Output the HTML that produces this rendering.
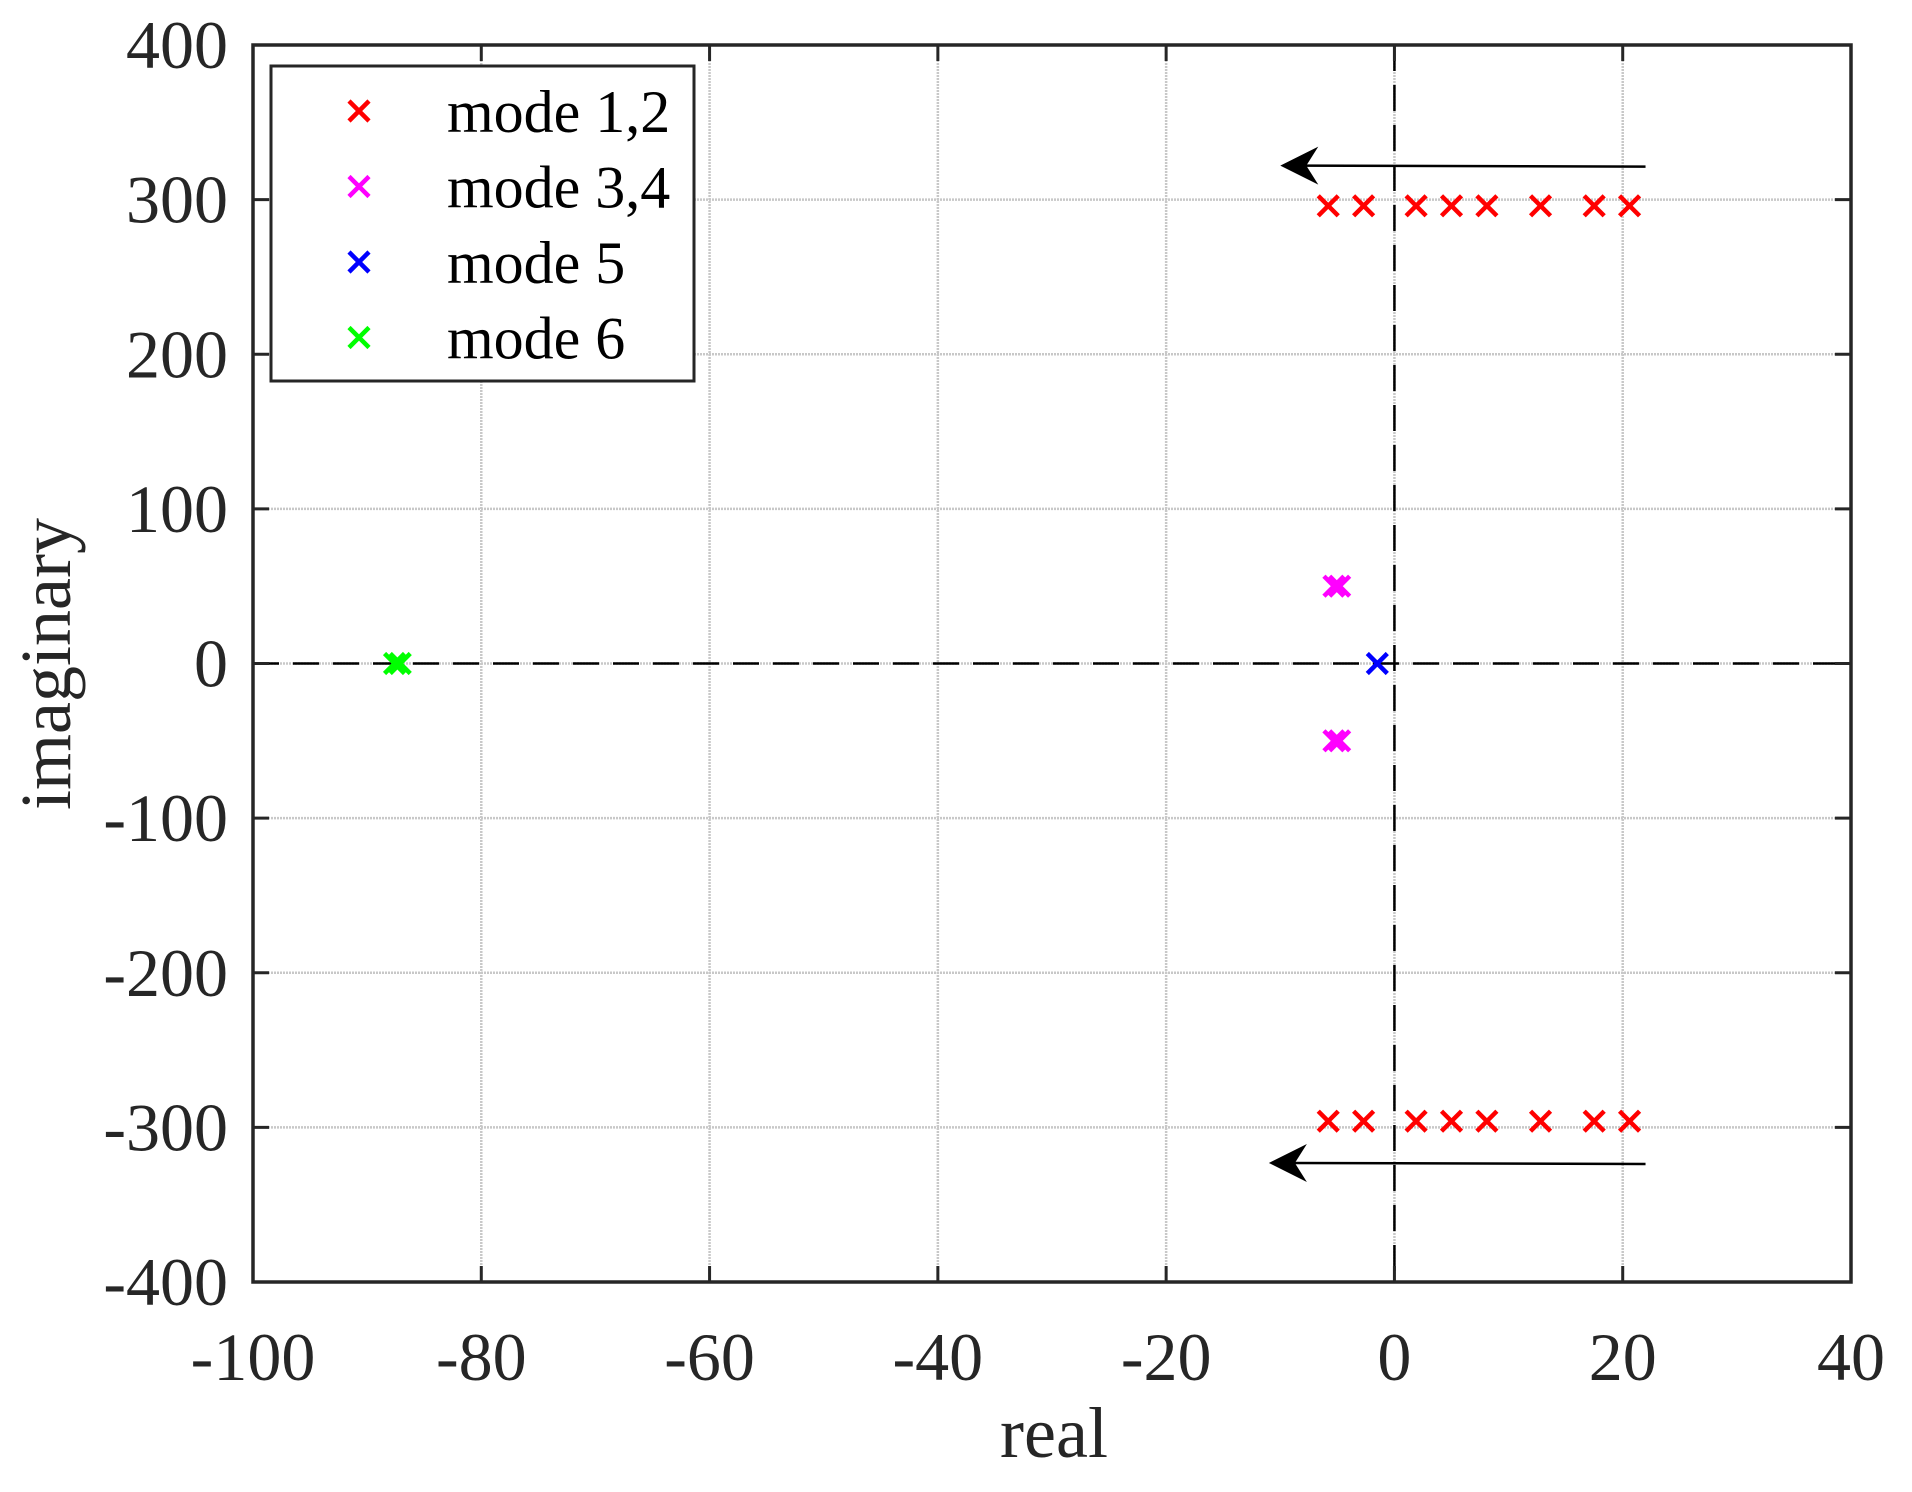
<!DOCTYPE html>
<html><head><meta charset="utf-8"><style>
html,body{margin:0;padding:0;background:#fff;}
svg text{font-family:"Liberation Serif",serif;fill:#262626;}
</style></head><body>
<svg id="chart" width="1912" height="1487" viewBox="0 0 1912 1487" xmlns="http://www.w3.org/2000/svg">
<g id="grid"></g>
<g id="ref"></g>
<g id="marks"></g>
<g id="axes"></g>
<text x="1054" y="1457" font-size="72" text-anchor="middle">real</text>
<text transform="translate(70,664) rotate(-90)" font-size="72" text-anchor="middle">imaginary</text>
<g id="legend"></g>
</svg>
<script>
const xTicks=[-100,-80,-60,-40,-20,0,20,40];
const yTicks=[-400,-300,-200,-100,0,100,200,300,400];
const mode12Re=[-5.8,-2.7,1.9,5.0,8.1,12.8,17.5,20.6];
const mode12Im=[296,-296];
const mode34Re=[-5.3,-4.8];
const mode34Im=[50,-50];
const mode5Re=[-1.5];
const mode5Im=[0];
const mode6Re=[-87.6,-87.1];
const mode6Im=[0];
const arrowStartRe=[22,22];
const arrowEndRe=[-10,-11];
const arrowIm=[322,-323];
const legendLabels=["mode 1,2","mode 3,4","mode 5","mode 6"];
const legendColors=["#ff0000","#ff00ff","#0000ff","#00ff00"];

const L=253,R=1851,T=45,B=1282;
const sx=v=>L+(v+100)/140*(R-L);
const sy=v=>T+(400-v)/800*(B-T);
const NS="http://www.w3.org/2000/svg";
function mk(tag,attrs,parent){const e=document.createElementNS(NS,tag);for(const k in attrs)e.setAttribute(k,attrs[k]);parent.appendChild(e);return e;}
const grid=document.getElementById('grid'),axes=document.getElementById('axes'),marks=document.getElementById('marks'),ref=document.getElementById('ref'),leg=document.getElementById('legend');

xTicks.forEach(v=>{
  const x=sx(v);
  if(v>-100&&v<40){const g=mk('line',{x1:x,x2:x,y1:T,y2:B,stroke:'#c8c8c8','stroke-width':2.5,'stroke-dasharray':'2 1'},grid);
  
  }
  const t1=mk('line',{x1:x,x2:x,y1:B,y2:B-16,stroke:'#262626','stroke-width':3},axes);
  
  
  const t2=mk('line',{x1:x,x2:x,y1:T,y2:T+16,stroke:'#262626','stroke-width':3},axes);
  
  
  const lb=mk('text',{x:x,y:1380,'font-size':68,'text-anchor':'middle'},axes);
  lb.textContent=v;
  
  
});
yTicks.forEach(v=>{
  const y=sy(v);
  if(v>-400&&v<400){const g=mk('line',{x1:L,x2:R,y1:y,y2:y,stroke:'#c8c8c8','stroke-width':2.5,'stroke-dasharray':'2 1'},grid);
  
  }
  const t1=mk('line',{x1:L,x2:L+16,y1:y,y2:y,stroke:'#262626','stroke-width':3},axes);
  
  
  const t2=mk('line',{x1:R,x2:R-16,y1:y,y2:y,stroke:'#262626','stroke-width':3},axes);
  
  
  const lb=mk('text',{x:228,y:y+23,'font-size':68,'text-anchor':'end'},axes);
  lb.textContent=v;
  
  
});
const bx=mk('rect',{x:L,y:T,width:R-L,height:B-T,fill:'none',stroke:'#262626','stroke-width':3.5},axes);



const h0=mk('line',{x1:L,x2:R,y1:sy(0),y2:sy(0),stroke:'#000','stroke-width':2.5,'stroke-dasharray':'26 14'},ref);


const v0=mk('line',{x1:sx(0),x2:sx(0),y1:T,y2:B,stroke:'#000','stroke-width':2.5,'stroke-dasharray':'26 14'},ref);



function cross(cx,cy,color,parent,name){
  const s=10;
  const g=mk('path',{d:`M${cx-s} ${cy-s}L${cx+s} ${cy+s}M${cx-s} ${cy+s}L${cx+s} ${cy-s}`,stroke:color,'stroke-width':4.5,fill:'none'},parent);
  
  
}
mode12Im.forEach(im=>mode12Re.forEach(re=>cross(sx(re),sy(im),'#ff0000',marks,'mode-1-2-pole')));
mode34Im.forEach(im=>mode34Re.forEach(re=>cross(sx(re),sy(im),'#ff00ff',marks,'mode-3-4-pole')));
mode5Im.forEach(im=>mode5Re.forEach(re=>cross(sx(re),sy(im),'#0000ff',marks,'mode-5-pole')));
mode6Im.forEach(im=>mode6Re.forEach(re=>cross(sx(re),sy(im),'#00ff00',marks,'mode-6-pole')));

arrowIm.forEach((im,i)=>{
  const x1=sx(arrowStartRe[i]),x2=sx(arrowEndRe[i]),y=sy(im);
  const ln=mk('line',{x1:x1,x2:x2+20,y1:y+1,y2:y,stroke:'#000','stroke-width':2.5},marks);
  
  
  const hd=mk('path',{d:`M${x2} ${y}L${x2+38} ${y-19}L${x2+26} ${y}L${x2+38} ${y+19}Z`,fill:'#000'},marks);
  
  
});

const lr=mk('rect',{x:271,y:66,width:423,height:315,fill:'#fff',stroke:'#262626','stroke-width':3},leg);


legendLabels.forEach((lab,i)=>{
  const y=111+i*75.5;
  cross(359,y,legendColors[i],leg,'legend-marker');
  const t=mk('text',{x:447,y:y+21,'font-size':60,fill:'#000'},leg);
  t.style.fill='#000';
  t.textContent=lab;
  
  
});
</script>
</body></html>
